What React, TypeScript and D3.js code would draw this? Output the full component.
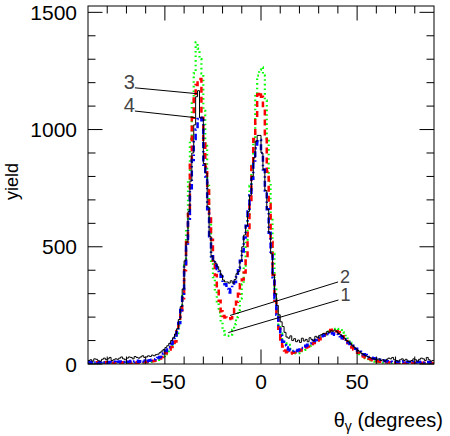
import React from 'react';
import * as d3 from 'd3';

// 1-degree bins from -90 to 90 (180 bins); each row of 10 starts at the edge in the comment
const binEdges: number[] = d3.range(-90, 90.001, 1);

// curve 1: green dotted
const h1Green = [
  /* -90 */ 3, 5, 4, 6, 3, 5, 4, 6, 5, 4,
  /* -80 */ 6, 5, 4, 3, 5, 6, 4, 5, 6, 4,
  /* -70 */ 5, 7, 5, 6, 4, 6, 7, 5, 6, 7,
  /* -60 */ 7, 8, 9, 10, 12, 14, 17, 21, 27, 33,
  /* -50 */ 42, 50, 58, 66, 77, 90, 125, 165, 220, 300,
  /* -40 */ 420, 580, 780, 960, 1120, 1240, 1372, 1345, 1300, 1240,
  /* -30 */ 1080, 930, 760, 600, 440, 370, 310, 260, 220, 180,
  /* -20 */ 140, 125, 120, 120, 125, 146, 170, 200, 230, 280,
  /* -10 */ 340, 420, 530, 640, 760, 850, 950, 1150, 1230, 1255,
  /*   0 */ 1265, 1230, 1124, 960, 780, 628, 470, 330, 225, 165,
  /*  10 */ 130, 105, 95, 88, 82, 65, 55, 48, 45, 46,
  /*  20 */ 50, 55, 60, 66, 72, 78, 85, 90, 96, 102,
  /*  30 */ 108, 114, 120, 126, 132, 138, 142, 146, 150, 152,
  /*  40 */ 150, 145, 135, 125, 115, 102, 90, 80, 70, 60,
  /*  50 */ 50, 42, 36, 30, 25, 21, 18, 15, 12, 10,
  /*  60 */ 9, 8, 7, 6, 6, 5, 5, 4, 5, 4,
  /*  70 */ 3, 4, 3, 4, 3, 3, 4, 3, 3, 2,
  /*  80 */ 3, 3, 2, 3, 2, 3, 2, 3, 2, 3,
];
// curve 2: red dashed
const h2Red = [
  /* -90 */ 4, 6, 3, 5, 7, 4, 6, 3, 5, 7,
  /* -80 */ 4, 6, 5, 3, 6, 8, 5, 4, 7, 5,
  /* -70 */ 6, 8, 4, 6, 7, 5, 8, 6, 9, 7,
  /* -60 */ 8, 9, 10, 12, 14, 16, 19, 23, 30, 38,
  /* -50 */ 46, 55, 62, 72, 84, 96, 140, 175, 210, 280,
  /* -40 */ 400, 520, 640, 850, 1050, 1145, 1190, 1216, 1216, 1050,
  /* -30 */ 940, 840, 740, 640, 530, 440, 380, 320, 270, 225,
  /* -20 */ 205, 198, 195, 192, 195, 210, 235, 265, 300, 340,
  /* -10 */ 360, 390, 450, 560, 700, 850, 960, 1050, 1150, 1160,
  /*   0 */ 1140, 1100, 960, 820, 680, 520, 380, 270, 200, 150,
  /*  10 */ 105, 75, 58, 50, 46, 45, 48, 50, 52, 55,
  /*  20 */ 58, 62, 66, 70, 75, 80, 85, 90, 95, 100,
  /*  30 */ 106, 112, 120, 128, 135, 140, 145, 146, 145, 140,
  /*  40 */ 135, 128, 118, 108, 98, 88, 78, 70, 62, 55,
  /*  50 */ 48, 42, 36, 32, 28, 25, 22, 19, 16, 14,
  /*  60 */ 12, 11, 10, 9, 8, 7, 7, 6, 5, 6,
  /*  70 */ 5, 4, 6, 5, 4, 5, 3, 5, 4, 3,
  /*  80 */ 5, 4, 3, 4, 5, 3, 4, 3, 4, 3,
];
// curve 3: black solid
const h3Black = [
  /* -90 */ 15, 18, 12, 22, 20, 14, 12, 20, 25, 18,
  /* -80 */ 22, 28, 15, 18, 22, 20, 25, 30, 22, 18,
  /* -70 */ 25, 30, 28, 22, 32, 28, 25, 30, 35, 28,
  /* -60 */ 30, 35, 32, 38, 35, 40, 42, 48, 55, 62,
  /* -50 */ 70, 78, 88, 100, 112, 128, 150, 190, 245, 320,
  /* -40 */ 440, 520, 650, 780, 900, 1020, 1140, 1166, 1050, 1050,
  /* -30 */ 855, 815, 670, 545, 460, 440, 430, 415, 400, 380,
  /* -20 */ 358, 350, 350, 345, 355, 345, 360, 385, 395, 440,
  /* -10 */ 500, 550, 590, 650, 720, 800, 880, 950, 975, 975,
  /*   0 */ 900, 830, 740, 660, 560, 470, 380, 300, 250, 210,
  /*  10 */ 180, 160, 135, 115, 110, 120, 100, 108, 95, 102,
  /*  20 */ 92, 110, 98, 105, 95, 112, 105, 100, 118, 112,
  /*  30 */ 122, 125, 130, 128, 138, 135, 142, 140, 145, 138,
  /*  40 */ 130, 125, 118, 110, 100, 95, 88, 80, 72, 65,
  /*  50 */ 58, 52, 45, 40, 35, 32, 28, 25, 22, 20,
  /*  60 */ 18, 22, 15, 18, 12, 20, 25, 22, 28, 18,
  /*  70 */ 15, 12, 18, 22, 15, 20, 12, 10, 15, 22,
  /*  80 */ 18, 12, 20, 25, 22, 15, 28, 18, 12, 15,
];
// curve 4: blue dash-dot
const h4Blue = [
  /* -90 */ 8, 5, 10, 6, 9, 4, 7, 10, 6, 8,
  /* -80 */ 5, 9, 7, 10, 6, 8, 11, 7, 9, 12,
  /* -70 */ 8, 10, 13, 9, 11, 14, 10, 12, 15, 11,
  /* -60 */ 12, 14, 16, 18, 20, 22, 26, 30, 38, 45,
  /* -50 */ 55, 62, 72, 85, 98, 112, 135, 175, 230, 300,
  /* -40 */ 420, 500, 620, 750, 870, 960, 1000, 1045, 1050, 1040,
  /* -30 */ 850, 800, 660, 545, 460, 440, 420, 405, 390, 372,
  /* -20 */ 350, 340, 320, 305, 320, 335, 350, 370, 410, 440,
  /* -10 */ 480, 540, 590, 650, 720, 790, 860, 920, 950, 955,
  /*   0 */ 900, 830, 740, 660, 560, 470, 370, 280, 210, 160,
  /*  10 */ 120, 95, 80, 70, 62, 58, 55, 58, 55, 60,
  /*  20 */ 62, 68, 72, 78, 82, 88, 92, 98, 102, 108,
  /*  30 */ 112, 118, 122, 125, 130, 128, 132, 130, 125, 128,
  /*  40 */ 120, 118, 110, 105, 98, 92, 85, 78, 72, 65,
  /*  50 */ 58, 52, 46, 42, 38, 34, 30, 27, 24, 22,
  /*  60 */ 20, 18, 16, 15, 13, 12, 11, 10, 9, 8,
  /*  70 */ 10, 9, 8, 10, 12, 9, 8, 10, 7, 11,
  /*  80 */ 8, 7, 9, 10, 6, 8, 7, 9, 5, 6,
];

const xMajorTicks = [-50, 0, 50];
const xTickLabels = ['\u221250', '0', '50'];
const yMajorTicks = [0, 500, 1000, 1500];
const yTickLabels = ['0', '500', '1000', '1500'];

const annLabels = ['3', '4', '2', '1'];
const annFrom: [number, number][] = [[-65.6, 1178], [-65.6, 1079], [-16.1, 207], [-17, 134]];
const annTo: [number, number][] = [[-33.3, 1153], [-34.4, 1051], [40.1, 350], [40.3, 273]];

const FONT = '"Liberation Sans", Arial, Helvetica, sans-serif';

export default function App() {
  const W = 450, H = 436;
  const L = 88, R = 434, T = 6, B = 364;
  const x = d3.scaleLinear().domain([-90, 90]).range([L, R]);
  const y = d3.scaleLinear().domain([0, 1527]).range([B, T]);

  const stepPath = (vals: number[]) => {
    const pts: [number, number][] = vals.map((v, i) => [binEdges[i], v]);
    pts.push([binEdges[vals.length], vals[vals.length - 1]]);
    return d3.line<[number, number]>()
      .x(d => x(d[0]))
      .y(d => y(d[1]))
      .curve(d3.curveStepAfter)(pts) || '';
  };

  const xMinor = d3.range(-80, 90, 10).filter(v => !xMajorTicks.includes(v));
  const yMinor = d3.range(100, 1527, 100).filter(v => !yMajorTicks.includes(v));
  const MAJ = 14.5, MIN = 7.5;

  return (
    <svg width={W} height={H} style={{ position: 'absolute', left: 0, top: 0, background: '#fff' }}
      xmlns="http://www.w3.org/2000/svg">
      <defs>
        <clipPath id="plot">
          <rect x={L} y={T} width={R - L} height={B - T} />
        </clipPath>
      </defs>
      <rect x={0} y={0} width={W} height={H} fill="#fff" />
      <g clipPath="url(#plot)" fill="none">
        <path d={stepPath(h1Green)} stroke="#00ff00" strokeWidth={2.2} strokeDasharray="1.6,3" />
        <path d={stepPath(h2Red)} stroke="#ff0000" strokeWidth={2.5} strokeDasharray="6,4" />
        <path d={stepPath(h4Blue)} stroke="#0000ff" strokeWidth={2.5} strokeDasharray="6,3,1.5,3" />
        <path d={stepPath(h3Black)} stroke="#000" strokeWidth={1} />
      </g>

      {/* frame */}
      <rect x={L} y={T} width={R - L} height={B - T} fill="none" stroke="#000" strokeWidth={1} />

      {/* ticks */}
      <g stroke="#000" strokeWidth={1}>
        {xMajorTicks.map(v => (
          <g key={'xm' + v}>
            <line x1={x(v)} x2={x(v)} y1={B} y2={B - MAJ} />
            <line x1={x(v)} x2={x(v)} y1={T} y2={T + MAJ} />
          </g>
        ))}
        {xMinor.map(v => (
          <g key={'xn' + v}>
            <line x1={x(v)} x2={x(v)} y1={B} y2={B - MIN} />
            <line x1={x(v)} x2={x(v)} y1={T} y2={T + MIN} />
          </g>
        ))}
        {yMajorTicks.map(v => (
          <g key={'ym' + v}>
            <line x1={L} x2={L + MAJ} y1={y(v)} y2={y(v)} />
            <line x1={R} x2={R - MAJ} y1={y(v)} y2={y(v)} />
          </g>
        ))}
        {yMinor.map(v => (
          <g key={'yn' + v}>
            <line x1={L} x2={L + MIN} y1={y(v)} y2={y(v)} />
            <line x1={R} x2={R - MIN} y1={y(v)} y2={y(v)} />
          </g>
        ))}
      </g>

      {/* tick labels */}
      <g fontFamily={FONT} fontSize={21} fill="#000">
        {yMajorTicks.map((v, i) => (
          <text key={'yl' + v} x={77} y={y(v)} dy="0.36em" textAnchor="end">{yTickLabels[i]}</text>
        ))}
        {xMajorTicks.map((v, i) => (
          <text key={'xl' + v} x={x(v) + (v < 0 ? 3 : 0)} y={389} textAnchor="middle">{xTickLabels[i]}</text>
        ))}
      </g>

      {/* axis titles */}
      <text fontFamily={FONT} fontSize={18} transform="translate(18,163) rotate(-90)" textAnchor="end">yield</text>
      <text fontFamily={FONT} fontSize={20} x={443} y={427} textAnchor="end">
        θ<tspan dy={4} fontSize={14}>γ</tspan><tspan dy={-4}> (degrees)</tspan>
      </text>

      {/* annotations */}
      <g>
        {annLabels.map((lab, i) => {
          const [fx, fy] = annFrom[i];
          const [tx, ty] = annTo[i];
          const leftSide = i < 2;
          return (
            <g key={'ann' + lab}>
              <line x1={x(fx)} y1={y(fy)} x2={x(tx)} y2={y(ty)} stroke="#000" strokeWidth={1} />
              {leftSide ? (
                <text x={x(fx)} y={y(fy) + 1} textAnchor="end" fontFamily={FONT} fontSize={20} fill="#444"
                  fontWeight={300}>{lab}</text>
              ) : (
                <text x={x(tx) + 2} y={y(ty) + 1} textAnchor="start" fontFamily={FONT} fontSize={18} fill="#444"
                  fontWeight={300}>{lab}</text>
              )}
            </g>
          );
        })}
      </g>
    </svg>
  );
}
